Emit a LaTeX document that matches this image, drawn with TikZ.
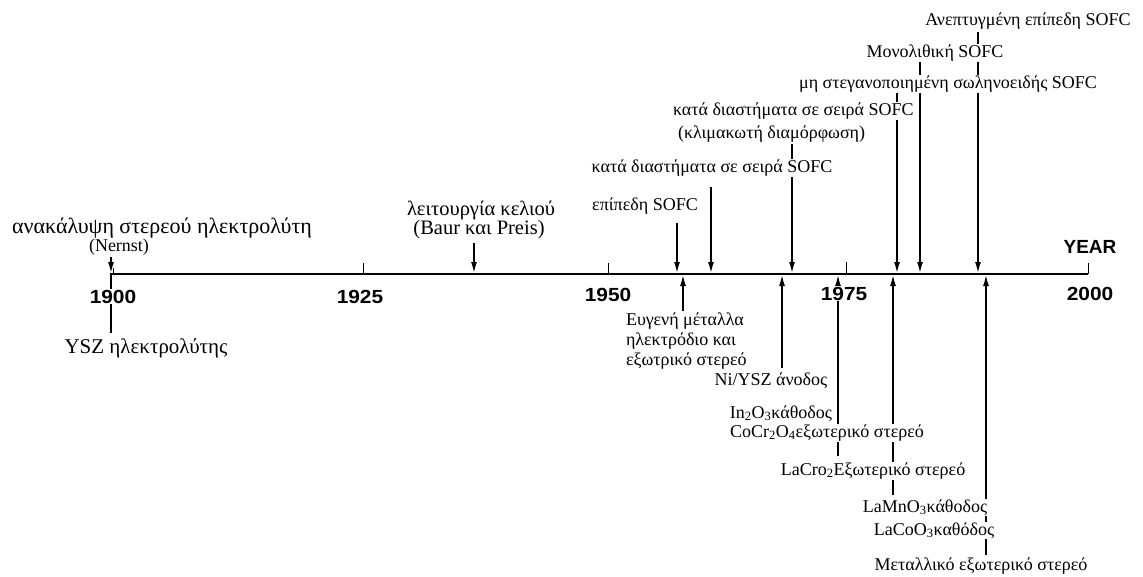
\documentclass[tikz,border=0pt]{standalone}
\usepackage{fontspec}
\setmainfont{Liberation Serif}
\setsansfont{Liberation Sans}
\usetikzlibrary{arrows.meta,calc}
\pgfdeclarelayer{paper}
\pgfdeclarelayer{bg}
\pgfsetlayers{paper,bg,main}
\begin{document}
\begin{tikzpicture}[x=1pt,y=-1pt,
  lbl/.style={fill=white,inner sep=0.8pt,font=\fontsize{18}{20}\selectfont,anchor=base},
  big/.style={font=\fontsize{22}{22}\selectfont},
  mid/.style={font=\fontsize{21}{20}\selectfont},
  small/.style={font=\fontsize{18}{16}\selectfont},
  yr/.style={fill=white,inner sep=0.5pt,anchor=base,font=\fontsize{19}{20}\selectfont\sffamily\bfseries,xscale=1.1},
  arr/.style={line width=1.5pt,-{Latex[length=11pt,width=6pt]}},
  conn/.style={line width=1.5pt},
  axisline/.style={line width=2pt},
  tickline/.style={line width=1pt}]
\begin{pgfonlayer}{paper}
\useasboundingbox[fill=white] (0,0) rectangle (1143,576);
\end{pgfonlayer}

% axis
\coordinate (axL) at (110,274);
\coordinate (axR) at (1088,274);
\coordinate (t1900) at (113,274);
\coordinate (t1925) at (363,274);
\coordinate (t1950) at (608,274);
\coordinate (t1975) at (846,274);
\coordinate (t2000) at (1088,274);
% arrow points on the axis (top side / bottom side)
\coordinate (dNernst) at (111,273);
\coordinate (dBaur) at (474,273);
\coordinate (dEpi) at (677,273);
\coordinate (dKataA) at (711,273);
\coordinate (dKataB) at (792,273);
\coordinate (dMi) at (897,273);
\coordinate (dMono) at (920,273);
\coordinate (dAnept) at (978,273);
\coordinate (uYsz) at (111,275);
\coordinate (uEvg) at (683,275);
\coordinate (uNi) at (782,275);
\coordinate (uIn) at (838,275);
\coordinate (uLaMn) at (893,275);
\coordinate (uMet) at (986,275);

% labels above
\node[lbl,big] (disc) at (162,233) {ανακάλυψη στερεού ηλεκτρολύτη};
\node[lbl,small] (nernst) at (119,251) {(Nernst)};
\node[lbl,mid,font=\fontsize{20.5}{20}\selectfont] (baurA) at (481,215) {λειτουργία κελιού};
\node[lbl,mid,fill=none,font=\fontsize{20.5}{20}\selectfont] (baurB) at (479,234) {(Baur και Preis)};
\node[lbl] (epi) at (645,210) {επίπεδη SOFC};
\node[lbl] (kataA) at (712,172) {κατά διαστήματα σε σειρά SOFC};
\node[lbl,anchor=base west] (kataB1) at (672,115) {κατά διαστήματα σε σειρά SOFC};
\node[lbl,anchor=base west] (kataB2) at (677,138) {(κλιμακωτή διαμόρφωση)};
\node[lbl] (mi) at (948,88) {μη στεγανοποιημένη σωληνοειδής SOFC};
\node[lbl] (mono) at (935,57) {Μονολιθική SOFC};
\node[lbl] (anept) at (1028,25) {Ανεπτυγμένη επίπεδη SOFC};

% labels below
\node[lbl,mid] (ysz) at (146,353) {YSZ ηλεκτρολύτης};
\node[lbl,anchor=base west] (evgA) at (625,325) {Ευγενή μέταλλα};
\node[lbl,anchor=base west] (evgB) at (625,345) {ηλεκτρόδιο και};
\node[lbl,anchor=base west] (evgC) at (625,365) {εξωτρικό στερεό};
\node[lbl] (ni) at (771,385) {Ni/YSZ άνοδος};
\node[lbl,anchor=base east] (inox) at (833,418) {In\textsubscript{2}O\textsubscript{3}κάθοδος};
\node[lbl] (cocr) at (827,437) {CoCr\textsubscript{2}O\textsubscript{4}εξωτερικό στερεό};
\node[lbl] (lacro) at (873,475) {LaCro\textsubscript{2}Εξωτερικό στερεό};
\node[lbl] (lamn) at (925,512) {LaMnO\textsubscript{3}κάθοδος};
\node[lbl] (laco) at (934,535) {LaCoO\textsubscript{3}καθόδος};
\node[lbl] (metal) at (981,570) {Μεταλλικό εξωτερικό στερεό};

% year labels
\node[yr] (y1900) at (113,303) {1900};
\node[yr] (y1925) at (360,303) {1925};
\node[yr] (y1950) at (608,301) {1950};
\node[yr] (y1975) at (844,300) {1975};
\node[yr] (y2000) at (1090,300) {2000};
\node[yr,xscale=1/1.1] (year) at (1090,253) {YEAR};

\begin{pgfonlayer}{bg}
  \draw[axisline] (axL) -- (axR);
  \draw[tickline] (t1900) -- ++(0,-6);
  \draw[tickline] (t1925) -- ++(0,-11);
  \draw[tickline] (t1950) -- ++(0,-11);
  \draw[tickline] (t1975) -- ++(0,-12);
  \draw[tickline] (t2000) -- ++(0,-11);
  % downward arrows
  \draw[arr,shorten <=1pt] (nernst.south -| dNernst) -- (dNernst);
  \draw[arr,shorten <=4pt] (baurB.south -| dBaur) -- (dBaur);
  \draw[arr,shorten <=8pt] (epi.south -| dEpi) -- (dEpi);
  \draw[arr,shorten <=10pt] (kataA.south -| dKataA) -- (dKataA);
  \draw[arr,shorten <=1pt] (kataB2.south -| dKataB) -- (dKataB);
  \draw[arr] (mi.south -| dMi) -- (dMi);
  \draw[arr] (mono.south -| dMono) -- (dMono);
  \draw[arr,shorten <=2pt] (anept.south -| dAnept) -- (dAnept);
  % upward arrows
  \draw[conn,shorten <=4pt] (ysz.north -| uYsz) -- (uYsz);
  \draw[arr] (evgA.north -| uEvg) -- (uEvg);
  \draw[arr,shorten <=3pt] (ni.north -| uNi) -- (uNi);
  \draw[arr,shorten <=5pt] (lacro.north -| uIn) -- (uIn);
  \draw[arr,shorten <=3pt] (lamn.north -| uLaMn) -- (uLaMn);
  \draw[arr,shorten <=1pt] (metal.north -| uMet) -- (uMet);
\end{pgfonlayer}
\end{tikzpicture}
\end{document}
